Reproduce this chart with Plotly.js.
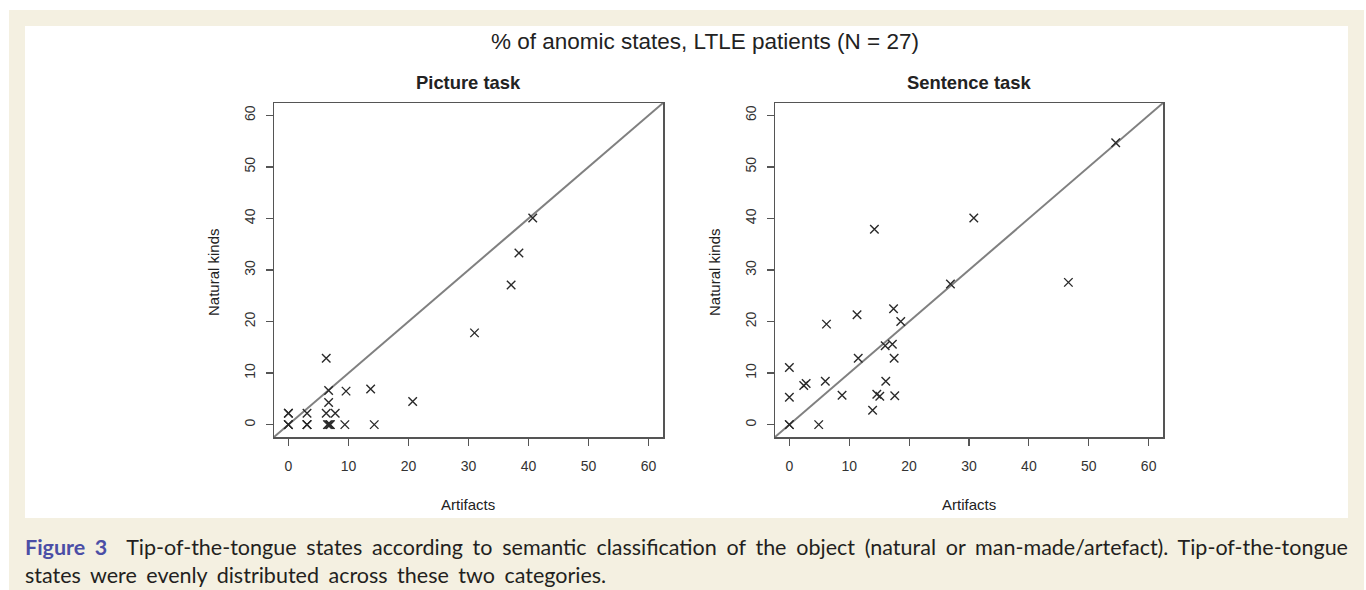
<!DOCTYPE html>
<html>
<head>
<meta charset="utf-8">
<script src="https://cdn.plot.ly/plotly-3.0.1.min.js"></script>
<style>
  html, body { margin: 0; padding: 0; background: #ffffff; }
  #wrap { position: relative; width: 1366px; height: 590px; overflow: hidden; }
  #chart { position: absolute; left: 0; top: 0; width: 1366px; height: 590px; }
  .cap {
    position: absolute; left: 25px; width: 1323px; white-space: nowrap;
    font-family: Lato, "Open Sans", sans-serif; font-size: 21.5px; line-height: 28px;
    color: #231f20;
  }
  #cap1 { top: 533px; text-align: justify; text-align-last: justify; white-space: normal; }
  #cap2 { top: 561px; text-align: left; word-spacing: 4px; }
  .fig { color: #4b4ea6; font-weight: 700; }
</style>
</head>
<body>
<div id="wrap">
  <div id="chart"></div>
  <div id="cap1" class="cap"><span class="fig">Figure 3</span>&nbsp; Tip-of-the-tongue states according to semantic classification of the object (natural or man-made/artefact). Tip-of-the-tongue</div>
  <div id="cap2" class="cap">states were evenly distributed across these two categories.</div>
</div>
<script>
// ---- data ----
const mainTitle = "% of anomic states, LTLE patients (N = 27)";
const panelTitles = ["Picture task", "Sentence task"];
const xLabel = "Artifacts";
const yLabel = "Natural kinds";
const tickValues = [0, 10, 20, 30, 40, 50, 60];
const axisRange = [-2.4, 62.4];

const pictureArtifacts = [0, 0, 0, 0, 0, 3.1, 3.1, 3.1, 3.1, 6.3, 7.8, 6.7, 6.7, 6.3, 6.5, 6.7, 6.9, 7.0, 9.4, 9.6, 13.7, 14.3, 20.7, 31.0, 37.1, 38.4, 40.7];
const pictureNatural   = [2.2, 2.2, 0, 0, 0, 2.2, 0, 0, 0, 2.2, 2.2, 4.3, 6.6, 12.9, 0, 0, 0, 0, 0, 6.5, 6.9, 0, 4.5, 17.8, 27.1, 33.3, 40.1];

const sentenceArtifacts = [0, 0, 0, 0, 4.9, 2.4, 2.8, 6.0, 6.2, 8.8, 11.3, 11.5, 13.9, 14.2, 14.6, 15.1, 16.0, 16.1, 17.2, 17.4, 17.5, 17.6, 18.6, 26.9, 30.8, 46.6, 54.5];
const sentenceNatural   = [11.1, 5.3, 0, 0, 0, 7.6, 8.0, 8.4, 19.5, 5.7, 21.3, 12.9, 2.8, 37.9, 5.9, 5.5, 15.3, 8.4, 15.6, 22.5, 12.9, 5.6, 20.0, 27.3, 40.1, 27.6, 54.7];

// ---- layout helpers ----
const W = 1366, H = 590;
const px = v => v / W;
const py = v => 1 - v / H;

const markerStyle = { symbol: "x-thin-open", size: 8.5, color: "#2a2a2a", line: { width: 1.4, color: "#2a2a2a" } };
const diagStyle = { color: "#808080", width: 2 };

const traces = [
  { x: axisRange, y: axisRange, mode: "lines", line: diagStyle, xaxis: "x", yaxis: "y", hoverinfo: "skip" },
  { x: pictureArtifacts, y: pictureNatural, mode: "markers", marker: markerStyle, xaxis: "x", yaxis: "y" },
  { x: axisRange, y: axisRange, mode: "lines", line: diagStyle, xaxis: "x2", yaxis: "y2", hoverinfo: "skip" },
  { x: sentenceArtifacts, y: sentenceNatural, mode: "markers", marker: markerStyle, xaxis: "x2", yaxis: "y2" }
];

const tickFont = { family: "Liberation Sans, Arial, sans-serif", size: 14, color: "#333333" };
function xAxis(domain, anchor) {
  return {
    domain: domain, anchor: anchor, range: axisRange, tickvals: tickValues,
    showgrid: false, zeroline: false, showline: true, mirror: true,
    linecolor: "#555555", linewidth: 1.5, ticks: "outside", ticklen: 7, tickwidth: 1.2, tickcolor: "#555555",
    tickfont: tickFont, ticklabelstandoff: 9, fixedrange: true
  };
}
function yAxis(anchor) {
  return {
    domain: [py(437), py(103)], anchor: anchor, range: axisRange, tickvals: tickValues,
    showgrid: false, zeroline: false, showline: true, mirror: true,
    linecolor: "#555555", linewidth: 1.5, ticks: "outside", ticklen: 7, tickwidth: 1.2, tickcolor: "#555555",
    tickfont: tickFont, tickangle: -90, ticklabelstandoff: 5, fixedrange: true
  };
}

const textFont = { family: "Liberation Sans, Arial, sans-serif", color: "#222222" };
const ann = (x, y, text, size, extra) => Object.assign({
  xref: "paper", yref: "paper", x: px(x), y: py(y), text: text, showarrow: false,
  xanchor: "center", yanchor: "middle", font: Object.assign({}, textFont, { size: size })
}, extra || {});

const layout = {
  width: W, height: H,
  margin: { l: 0, r: 0, t: 0, b: 0 },
  paper_bgcolor: "#ffffff", plot_bgcolor: "rgba(0,0,0,0)",
  showlegend: false,
  xaxis: xAxis([px(274), px(663)], "y"),
  yaxis: yAxis("x"),
  xaxis2: xAxis([px(775), px(1163)], "y2"),
  yaxis2: yAxis("x2"),
  shapes: [
    { type: "rect", xref: "paper", yref: "paper", x0: px(9), x1: px(1364), y0: 0, y1: py(10), fillcolor: "#f4f0e1", line: { width: 0 }, layer: "below" },
    { type: "rect", xref: "paper", yref: "paper", x0: px(25), x1: px(1348), y0: py(518), y1: py(26), fillcolor: "#ffffff", line: { width: 0 }, layer: "below" }
  ],
  annotations: [
    ann(705, 42, mainTitle, 22.5),
    ann(468, 82, "<b>" + panelTitles[0] + "</b>", 18.4),
    ann(969, 82, "<b>" + panelTitles[1] + "</b>", 18.4),
    ann(468, 504, xLabel, 15),
    ann(969, 504, xLabel, 15),
    ann(213, 272, yLabel, 15, { textangle: -90 }),
    ann(714, 272, yLabel, 15, { textangle: -90 })
  ]
};

Plotly.newPlot("chart", traces, layout, { displayModeBar: false, staticPlot: true });
</script>
</body>
</html>
